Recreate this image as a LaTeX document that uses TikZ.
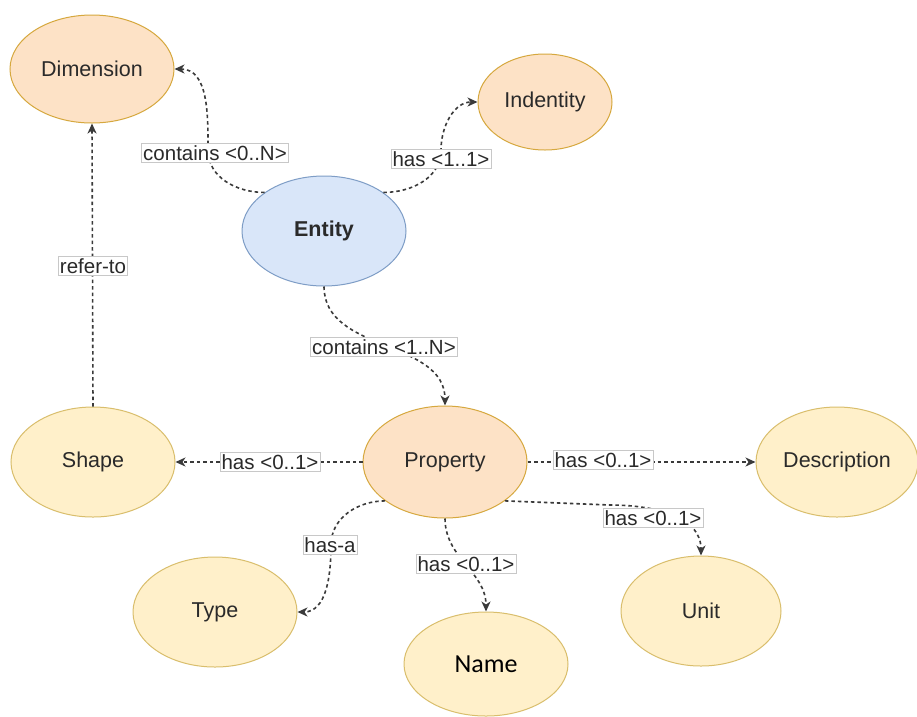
\documentclass[tikz,border=0pt]{standalone}
\usepackage{fontspec}
\setmainfont{Liberation Sans}
\newfontfamily\calibrilike{Carlito}
\usetikzlibrary{arrows.meta,shapes.geometric}

\definecolor{peachfill}{HTML}{FDE2C6}
\definecolor{peachline}{HTML}{D6A83E}
\definecolor{yellowfill}{HTML}{FFF0CA}
\definecolor{yellowline}{HTML}{D9BE6C}
\definecolor{bluefill}{HTML}{D9E6F9}
\definecolor{blueline}{HTML}{7E9DC6}
\definecolor{inkgray}{HTML}{2A2A2A}
\definecolor{linkgray}{HTML}{3A3A3A}
\definecolor{tagline}{HTML}{C8C8C8}

\tikzset{
  entitybox/.style={ellipse, draw, line width=1pt, inner sep=0pt,
    text=inkgray, font=\fontsize{21.5}{25}\selectfont},
  peachnode/.style={entitybox, fill=peachfill, draw=peachline},
  yellownode/.style={entitybox, fill=yellowfill, draw=yellowline},
  bluenode/.style={entitybox, fill=bluefill, draw=blueline},
  link/.style={draw=linkgray, line width=1.6pt, dash pattern=on 3.5pt off 3pt,
    -{Stealth[length=10pt,width=9pt,inset=3pt]}},
  tag/.style={draw=tagline, fill=white, line width=0.6pt, inner xsep=1.5pt,
    inner ysep=2pt, text=inkgray, font=\fontsize{20.5}{24}\selectfont}
}

% one ellipse node: name, half axes, style, centre, text
\newcommand{\ovalnode}[6]{%
  \node[#4, minimum width=#2*2pt, minimum height=#3*2pt] (#1) at #5 {#6};}

\begin{document}
\begin{tikzpicture}[x=1pt,y=1pt]
\useasboundingbox (0,0) rectangle (917,-716);
\fill[white] (0,0) rectangle (917,-716);

% concepts
\ovalnode{dim}{82}{54}{peachnode}{(92,-69)}{Dimension}
\ovalnode{ident}{67}{48}{peachnode}{(545,-102)}{Indentity}
\ovalnode{ent}{82}{55}{bluenode}{(324,-231)}{\textbf{Entity}}
\ovalnode{prop}{82}{56}{peachnode}{(445,-462)}{Property}
\ovalnode{shp}{82}{55}{yellownode}{(93,-462)}{Shape}
\ovalnode{desc}{81}{55}{yellownode}{(837,-462)}{Description}
\ovalnode{typ}{82}{55}{yellownode}{(215,-612)}{Type}
\ovalnode{unit}{80}{55}{yellownode}{(701,-611)}{Unit}
\ovalnode{nam}{82}{52}{yellownode}{(486,-664)}{\calibrilike\fontsize{26}{30}\selectfont\color{black}Name}

% bend points of the curved links
\coordinate (dimbend) at (208,-150);
\coordinate (identbend) at (441,-150);
\coordinate (typbend) at (331,-545);
\coordinate (unitbend) at (610,-505);

% links
\draw[link] (ent.147) to[out=180,in=-90] (dimbend) to[out=90,in=0] (dim.east);
\draw[link] (ent.33) to[out=0,in=-90] (identbend) to[out=90,in=180] (ident.west);
\draw[link] (ent.south) to[out=-90,in=90] (prop.north);
\draw[link] (shp.north) -- (dim.south);
\draw[link] (prop.west) -- (shp.east);
\draw[link] (prop.east) -- (desc.west);
\draw[link] (prop.-147) to[out=180,in=90] (typbend) to[out=-90,in=0] (typ.east);
\draw[link] (prop.south) to[out=-90,in=90] (nam.north);
\draw[link] (prop.-33) -- (unitbend) to[out=0,in=90] (unit.north);

% link labels
\node[tag] (t1) at (215,-153) {contains <0..N>};
\node[tag] (t2) at (441,-159) {has <1..1>};
\node[tag] (t3) at (93,-266) {refer-to};
\node[tag] (t4) at (384,-347) {contains <1..N>};
\node[tag] (t5) at (270,-462) {has <0..1>};
\node[tag] (t6) at (603,-460) {has <0..1>};
\node[tag] (t7) at (653,-518) {has <0..1>};
\node[tag] (t8) at (466,-564) {has <0..1>};
\node[tag] (t9) at (330,-545) {has-a};
\end{tikzpicture}
\end{document}
